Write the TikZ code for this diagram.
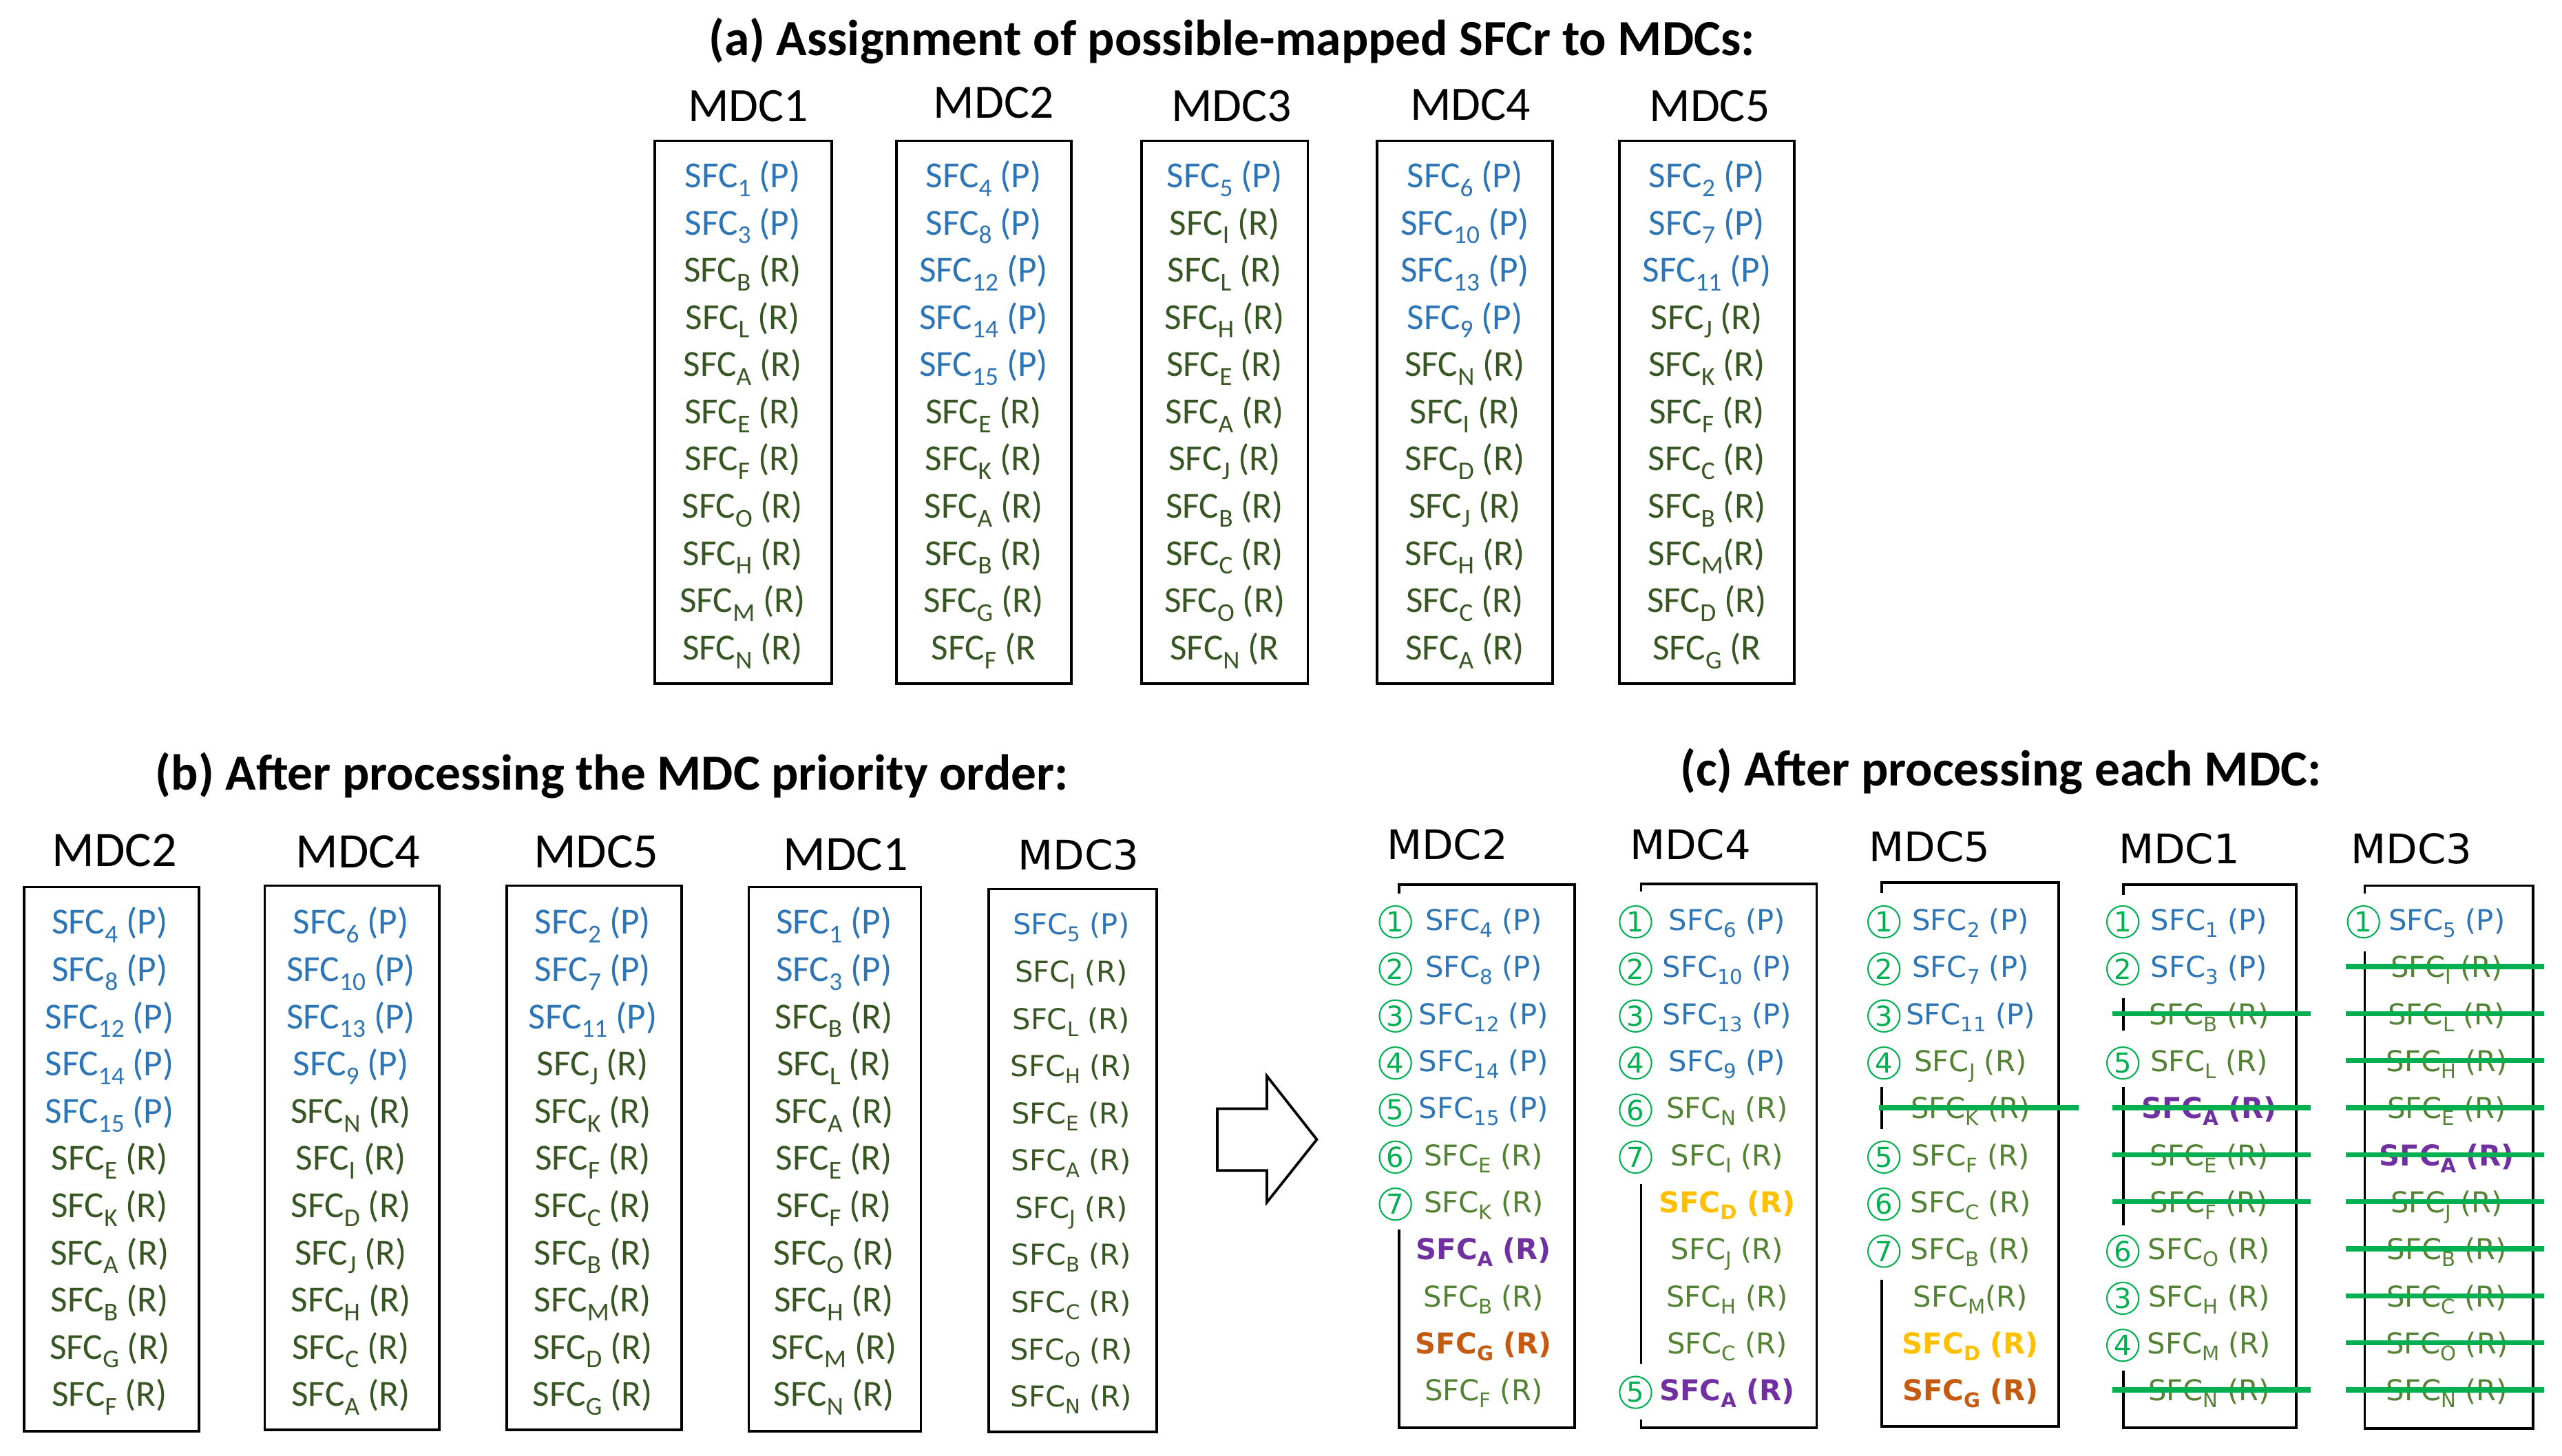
\documentclass[tikz,border=0pt]{standalone}
\usepackage{fontspec}
\usepackage{graphicx}
\setmainfont{Carlito}
\newfontfamily\wide{DejaVu Sans}
\definecolor{cblue}{HTML}{2E75B6}
\definecolor{cdgreen}{HTML}{375623}
\definecolor{clgreen}{HTML}{548235}
\definecolor{cpurple}{HTML}{7030A0}
\definecolor{cyellow}{HTML}{FFC000}
\definecolor{cbrown}{HTML}{C55A11}
\definecolor{cmark}{HTML}{00B050}
\newcommand\subs[1]{\raisebox{-0.24em}{\scalebox{0.7}{#1}}}
\newcommand\xaP[1]{\textcolor{cblue}{SFC\subs{#1} (P)}}
\newcommand\xaR[1]{\textcolor{cdgreen}{SFC\subs{#1} (R)}}
\newcommand\xaRn[1]{\textcolor{cdgreen}{SFC\subs{#1}(R)}}
\newcommand\xaRo[1]{\textcolor{cdgreen}{SFC\subs{#1} (R}}
\newcommand\xcP[1]{\textcolor{cblue}{SFC\subs{#1} (P)}}
\newcommand\xcR[1]{\textcolor{clgreen}{SFC\subs{#1} (R)}}
\newcommand\xcRn[1]{\textcolor{clgreen}{SFC\subs{#1}(R)}}
\newcommand\xcU[1]{\textcolor{cpurple}{\bfseries SFC\subs{#1} (R)}}
\newcommand\xcY[1]{\textcolor{cyellow}{\bfseries SFC\subs{#1} (R)}}
\newcommand\xcO[1]{\textcolor{cbrown}{\bfseries SFC\subs{#1} (R)}}
% column of entries: name, x, baseline of row 1, list, style
\newcommand\acol[5]{\foreach \sb/\ty [count=\i] in {#4} {\node[#5] (#1r\i) at (#2, {#3+28.9*(\i-1)}) {\csname xa\ty\endcsname{\sb}};}}
% (c) column: name, x text, x circle, list, strike x1, strike x2
\newcommand\ccol[6]{\foreach \sb/\ty/\nn/\sk [count=\i] in {#4} {%
  \pgfmathsetmacro\yy{564.3+28.8*(\i-1)}
  \node[entW] (#1r\i) at (#2,\yy+5.2) {\csname xc\ty\endcsname{\sb}};
  \ifnum\nn>0 \node[circ] (#1n\i) at (#3,\yy) {\nn};\fi
  \ifnum\sk=1 \draw[strike] (#5,\yy-1.5) -- (#6,\yy-1.5);\fi
}}
\tikzset{
 entA/.style={anchor=base, inner sep=0pt, font=\fontsize{12.8}{15}\selectfont},
 entW/.style={anchor=base, inner sep=0pt, font=\wide\fontsize{10}{12}\selectfont},
 headA/.style={anchor=base, inner sep=0pt, font=\fontsize{16.7}{20}\selectfont},
 headB/.style={anchor=base, inner sep=0pt, font=\fontsize{17.3}{20}\selectfont},
 headW/.style={anchor=base, inner sep=0pt, font=\wide\fontsize{14.2}{17}\selectfont},
 ttl/.style={anchor=base, inner sep=0pt, font=\bfseries\fontsize{17.6}{21}\selectfont},
 box/.style={draw=black, line width=0.9pt},
 strike/.style={draw=cmark, line width=1.75pt},
 circ/.style={circle, draw=cmark, line width=0.5pt, text=cmark, inner sep=0pt, minimum size=0.39cm, font=\wide\fontsize{9.6}{11}\selectfont},
 barrow/.style={draw=black, fill=white, line width=0.9pt, line join=miter}
}
\begin{document}
\begin{tikzpicture}[x=0.02cm, y=-0.02cm]
\useasboundingbox (0,0) rectangle (1568,891);
% ---------- (a) ----------
\node[ttl] (ta) at (753.8,34) {(a) Assignment of possible-mapped SFCr to MDCs:};
\node[headA] (ha1) at (457.9,74.5) {MDC1};
\node[headA] (ha2) at (608.2,72.3) {MDC2};
\node[headA] (ha3) at (753.8,74.5) {MDC3};
\node[headA] (ha4) at (900,73.7) {MDC4};
\node[headA] (ha5) at (1046.3,74.2) {MDC5};
\draw[box] (400.8,86.2) rectangle (509,418.4);
\draw[box] (548.7,86.2) rectangle (655.6,418.4);
\draw[box] (698.6,86.2) rectangle (800.4,418.4);
\draw[box] (842.9,86.2) rectangle (950.2,418.4);
\draw[box] (991,86.2) rectangle (1098.2,418.4);
\acol{aa}{454.5}{114.8}{1/P,3/P,B/R,L/R,A/R,E/R,F/R,O/R,H/R,M/R,N/R}{entA}
\acol{ab}{602}{114.8}{4/P,8/P,12/P,14/P,15/P,E/R,K/R,A/R,B/R,G/R,F/Ro}{entA}
\acol{ac}{749.5}{114.8}{5/P,I/R,L/R,H/R,E/R,A/R,J/R,B/R,C/R,O/R,N/Ro}{entA}
\acol{ad}{896.5}{114.8}{6/P,10/P,13/P,9/P,N/R,I/R,D/R,J/R,H/R,C/R,A/R}{entA}
\acol{ae}{1044.6}{114.8}{2/P,7/P,11/P,J/R,K/R,F/R,C/R,B/R,M/Rn,D/R,G/Ro}{entA}
% ---------- (b) ----------
\node[ttl] (tb) at (374.5,483.5) {(b) After processing the MDC priority order:};
\node[headB] (hb2) at (70.1,530.2) {MDC2};
\node[headB] (hb4) at (219.1,531) {MDC4};
\node[headB] (hb5) at (364.8,531) {MDC5};
\node[headB] (hb1) at (517.6,533) {MDC1};
\node[headW] (hb3) at (660,532.5) {MDC3};
\draw[box] (14.9,543) rectangle (121.7,876);
\draw[box] (162,542.1) rectangle (269,875.1);
\draw[box] (310,542.1) rectangle (417.2,875.1);
\draw[box] (458.3,543) rectangle (563.6,876);
\draw[box] (605.1,544.2) rectangle (708,876.6);
\acol{bb}{67.1}{571.8}{4/P,8/P,12/P,14/P,15/P,E/R,K/R,A/R,B/R,G/R,F/R}{entA}
\acol{bd}{214.7}{571.8}{6/P,10/P,13/P,9/P,N/R,I/R,D/R,J/R,H/R,C/R,A/R}{entA}
\acol{be}{362.8}{571.8}{2/P,7/P,11/P,J/R,K/R,F/R,C/R,B/R,M/Rn,D/R,G/R}{entA}
\acol{ba}{510.4}{571.8}{1/P,3/P,B/R,L/R,A/R,E/R,F/R,O/R,H/R,M/R,N/R}{entA}
\acol{bc}{655.6}{572.2}{5/P,I/R,L/R,H/R,E/R,A/R,J/R,B/R,C/R,O/R,N/R}{entA,entW}
% ---------- arrow ----------
\draw[barrow] (745,678.6) -- (775.4,678.6) -- (775.4,658.7) -- (805.9,697.5) -- (775.4,735.9) -- (775.4,716.5) -- (745,716.5) -- cycle;
% ---------- (c) ----------
\node[ttl] (tc) at (1224.5,481) {(c) After processing each MDC:};
\node[headW] (hc2) at (885.8,526) {MDC2};
\node[headW] (hc4) at (1034.5,526) {MDC4};
\node[headW] (hc5) at (1181,527.4) {MDC5};
\node[headW] (hc1) at (1333.7,528.7) {MDC1};
\node[headW] (hc3) at (1476,528.7) {MDC3};
\draw[box] (856.2,547) -- (856.2,541.6) -- (963.8,541.6) -- (963.8,874) -- (856.2,874) -- (856.2,752.7);
\draw[box] (1004.4,545.6) -- (1004.4,541.1) -- (1111.8,541.1) -- (1111.8,874) -- (1004.4,874) -- (1004.4,868.9);
\draw[box] (1004.4,725) -- (1004.4,834.9);
\draw[box] (1151.5,546.6) -- (1151.5,540.3) -- (1259.9,540.3) -- (1259.9,873.2) -- (1151.5,873.2) -- (1151.5,783.4);
\draw[box] (1151.5,665.5) -- (1151.5,691.1);
\draw[box] (1299.7,547.8) -- (1299.7,541.6) -- (1405.3,541.6) -- (1405.3,874) -- (1299.7,874) -- (1299.7,839);
\draw[box] (1299.7,611) -- (1299.7,631);
\draw[box] (1299.7,665.2) -- (1299.7,750.1);
\draw[box] (1447.3,547) -- (1447.3,542.1) -- (1550.2,542.1) -- (1550.2,874.4) -- (1447.3,874.4) -- (1447.3,582.5);
\ccol{cb}{908}{854}{4/P/1/0,8/P/2/0,12/P/3/0,14/P/4/0,15/P/5/0,E/R/6/0,K/R/7/0,A/U/0/0,B/R/0/0,G/O/0/0,F/R/0/0}{0}{0}
\ccol{cd}{1057}{1001}{6/P/1/0,10/P/2/0,13/P/3/0,9/P/4/0,N/R/6/0,I/R/7/0,D/Y/0/0,J/R/0/0,H/R/0/0,C/R/0/0,A/U/5/0}{0}{0}
\ccol{ce}{1206}{1153}{2/P/1/0,7/P/2/0,11/P/3/0,J/R/4/0,K/R/0/1,F/R/5/0,C/R/6/0,B/R/7/0,M/Rn/0/0,D/Y/0/0,G/O/0/0}{1150}{1272}
\ccol{ca}{1352}{1299.2}{1/P/1/0,3/P/2/0,B/R/0/1,L/R/5/0,A/U/0/1,E/R/0/1,F/R/0/1,O/R/6/0,H/R/3/0,M/R/4/0,N/R/0/1}{1293}{1414}
\ccol{cc}{1497.5}{1446.5}{5/P/1/0,I/R/0/1,L/R/0/1,H/R/0/1,E/R/0/1,A/U/0/1,J/R/0/1,B/R/0/1,C/R/0/1,O/R/0/1,N/R/0/1}{1435.5}{1557}
\end{tikzpicture}
\end{document}
